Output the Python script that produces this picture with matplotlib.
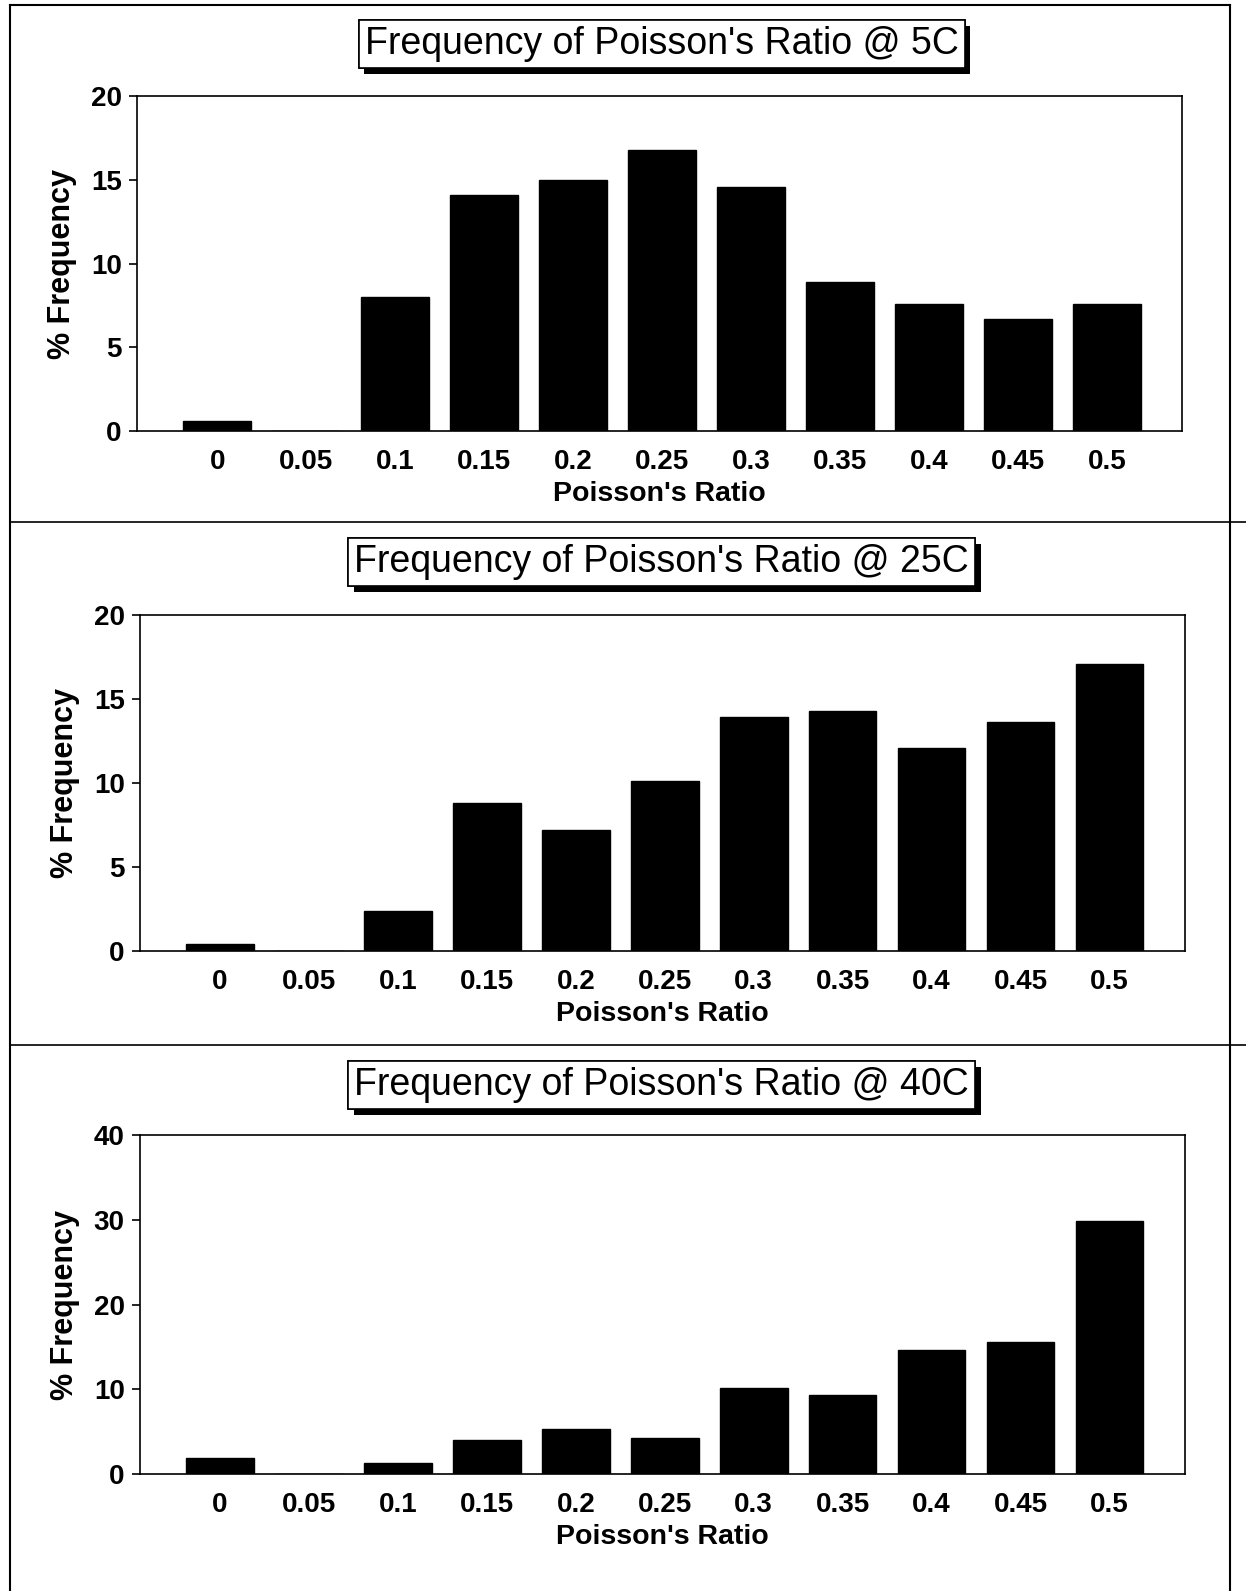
import matplotlib
matplotlib.use("Agg")
import matplotlib.pyplot as plt
import matplotlib.patheffects as pe
from matplotlib.lines import Line2D
import numpy as np

plt.rcParams['font.family'] = ['Liberation Sans', 'DejaVu Sans']

# ========================================
# Data
# ========================================
ratio_labels = ['0', '0.05', '0.1', '0.15', '0.2', '0.25', '0.3', '0.35', '0.4', '0.45', '0.5']

freq_5c = [0.6, 0.0, 8.0, 14.1, 15.0, 16.8, 14.6, 8.9, 7.6, 6.7, 7.6]
freq_25c = [0.4, 0.0, 2.4, 8.8, 7.2, 10.1, 13.9, 14.3, 12.1, 13.6, 17.1]
freq_40c = [1.9, 0.0, 1.3, 4.0, 5.3, 4.3, 10.1, 9.3, 14.6, 15.6, 29.8]

panels = [
    ("Frequency of Poisson's Ratio @ 5C", freq_5c, [0, 5, 10, 15, 20], 20),
    ("Frequency of Poisson's Ratio @ 25C", freq_25c, [0, 5, 10, 15, 20], 20),
    ("Frequency of Poisson's Ratio @ 40C", freq_40c, [0, 10, 20, 30, 40], 40),
]

# axes rectangles in figure fractions, and title centre heights
axes_rects = [
    [0.110, 0.729, 0.839, 0.2106],
    [0.1124, 0.4023, 0.8387, 0.2112],
    [0.1124, 0.0735, 0.8387, 0.2131],
]
title_y = [1 - 44 / 1591, 1 - 562 / 1591, 1 - 1085 / 1591]

fig = plt.figure(figsize=(12.46, 15.91), dpi=100)

x = np.arange(len(ratio_labels))
for (title, values, yticks, ymax), rect, ty in zip(panels, axes_rects, title_y):
    ax = fig.add_axes(rect)
    ax.bar(x, values, width=0.76, color='black', edgecolor='black')
    ax.set_xlim(-0.9, 10.85)
    ax.set_ylim(0, ymax)
    ax.set_yticks(yticks)
    ax.set_xticks(x)
    ax.set_xticklabels(ratio_labels)
    ax.tick_params(axis='x', length=0, pad=13, labelsize=20)
    ax.tick_params(axis='y', length=6, width=1.2, pad=5, labelsize=20, direction='out')
    for lab in ax.get_xticklabels() + ax.get_yticklabels():
        lab.set_fontweight('bold')
    for s in ax.spines.values():
        s.set_linewidth(1.2)
    ax.set_xlabel("Poisson's Ratio", fontsize=20.5, fontweight='bold', labelpad=4)
    ax.set_ylabel("% Frequency", fontsize=22, fontweight='bold', labelpad=10)

    t = fig.text(0.531, ty, title, ha='center', va='center', fontsize=27,
                 bbox=dict(boxstyle='square,pad=0.16', facecolor='white',
                           edgecolor='black', linewidth=1.2))
    t.get_bbox_patch().set_path_effects([
        pe.withSimplePatchShadow(offset=(4, -4), shadow_rgbFace='black', alpha=1.0),
        pe.Normal(),
    ])

# outer frame and panel separators
fig.add_artist(Line2D([0.008, 0.008], [0, 0.997], color='black', lw=1.5))
fig.add_artist(Line2D([0.987, 0.987], [0, 0.997], color='black', lw=1.5))
fig.add_artist(Line2D([0.008, 0.987], [0.997, 0.997], color='black', lw=1.5))
fig.add_artist(Line2D([0.008, 1.0], [1 - 522 / 1591, 1 - 522 / 1591], color='black', lw=1.2))
fig.add_artist(Line2D([0.008, 1.0], [1 - 1045 / 1591, 1 - 1045 / 1591], color='black', lw=1.2))

plt.savefig('out.png', dpi=100)
plt.close()
